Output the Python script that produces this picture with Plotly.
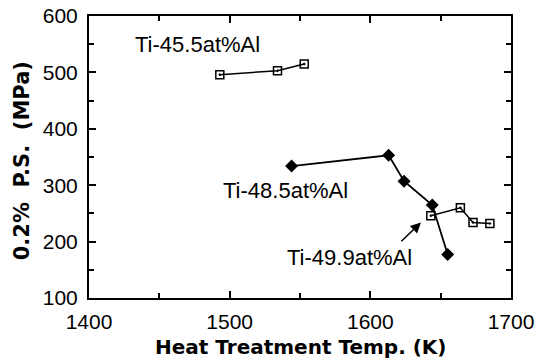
import plotly.graph_objects as go

# Data
t455_x = [1493, 1534, 1553]
t455_y = [496, 503, 515]
t485_x = [1544, 1613, 1624, 1644, 1655]
t485_y = [334, 353, 307, 265, 177]
t499_x = [1643, 1664, 1673, 1685]
t499_y = [246, 260, 234, 232]

labels = ["Ti-45.5at%Al", "Ti-48.5at%Al", "Ti-49.9at%Al"]
label_x = [1431, 1494, 1539]
label_y = [550, 290, 172]

x_title = "Heat Treatment Temp. (K)"
y_title = "0.2%  P.S.  (MPa)"

fig = go.Figure()
sq = dict(symbol="square-open-dot", size=8, color="black", line=dict(width=1.5, color="black"))
fig.add_trace(go.Scatter(x=t455_x, y=t455_y, mode="lines+markers",
                         line=dict(color="black", width=1.5), marker=sq))
fig.add_trace(go.Scatter(x=t485_x, y=t485_y, mode="lines+markers",
                         line=dict(color="black", width=1.8),
                         marker=dict(symbol="diamond", size=10, color="black")))
fig.add_trace(go.Scatter(x=t499_x, y=t499_y, mode="lines+markers",
                         line=dict(color="black", width=1.5), marker=sq))

for t, x, y in zip(labels, label_x, label_y):
    fig.add_annotation(x=x, y=y, text=t, showarrow=False, xanchor="left", yanchor="middle",
                       font=dict(family="Arial, Liberation Sans", size=22, color="black"))

fig.add_annotation(x=1636, y=234, ax=1621, ay=198, axref="x", ayref="y", xref="x", yref="y",
                   text="", showarrow=True, arrowhead=2, arrowsize=1.3, arrowwidth=1.6,
                   arrowcolor="black")

# axis titles as annotations for exact placement
fig.add_annotation(x=0.5, y=-0.175, xref="paper", yref="paper", text=x_title,
                   showarrow=False, xanchor="center", yanchor="middle",
                   font=dict(family="DejaVu Sans", size=20, color="black", weight="bold"))
fig.add_annotation(x=-0.159, y=0.488, xref="paper", yref="paper", text=y_title,
                   showarrow=False, xanchor="center", yanchor="middle", textangle=-90,
                   font=dict(family="DejaVu Sans", size=21, color="black", weight="bold"))

axis_common = dict(showline=True, linecolor="black", linewidth=2, mirror="ticks",
                   ticks="inside", ticklen=7, tickwidth=1.5, tickcolor="black",
                   showgrid=False, zeroline=False, automargin=False,
                   tickfont=dict(family="Arial, Liberation Sans", size=21, color="black"))

fig.update_xaxes(range=[1400, 1700], dtick=100, tick0=1400,
                 minor=dict(dtick=50, ticks="inside", ticklen=5, tickwidth=1.5, tickcolor="black"),
                 ticklabelstandoff=4, **axis_common)
fig.update_yaxes(range=[100, 600], dtick=100, tick0=100,
                 minor=dict(dtick=50, ticks="inside", ticklen=5, tickwidth=1.5, tickcolor="black"),
                 ticklabelstandoff=5, **axis_common)

fig.update_layout(width=537, height=363, margin=dict(l=89, r=26, t=16, b=65),
                  plot_bgcolor="white", paper_bgcolor="white", showlegend=False)

fig.write_html("out.html", config={"displayModeBar": False},
               post_script="document.body.style.margin='0';")
